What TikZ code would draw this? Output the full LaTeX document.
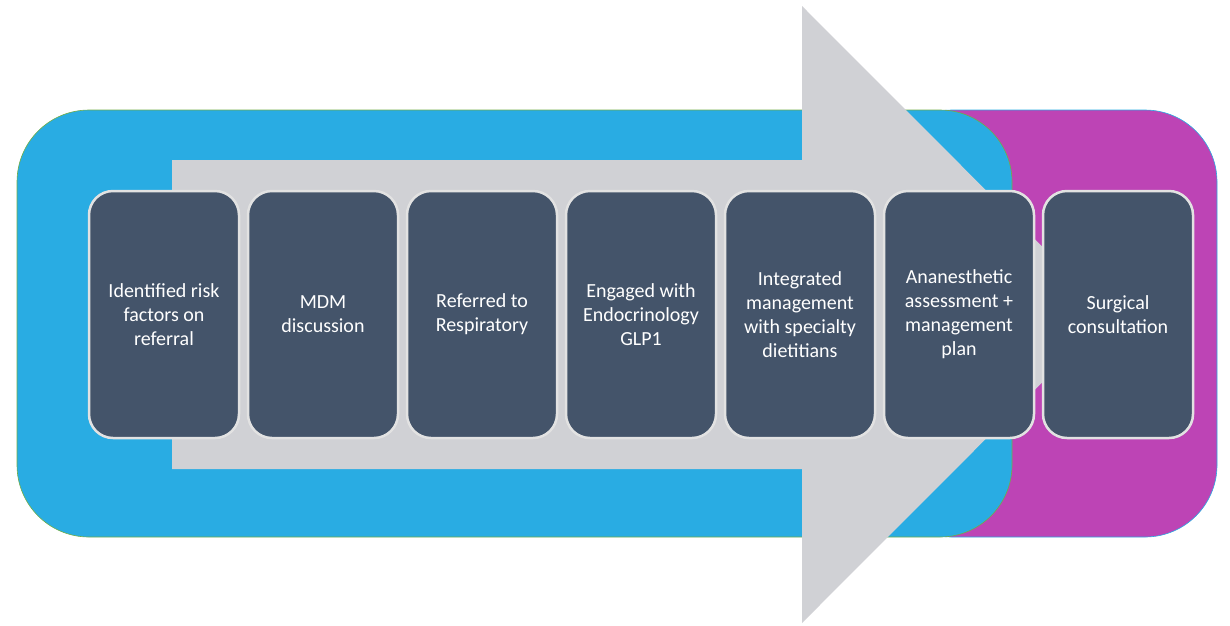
\documentclass[tikz,border=0pt]{standalone}
\usepackage{fontspec}
\setmainfont{Carlito}
\usepackage{tikz}
\usetikzlibrary{positioning}
\definecolor{bandblue}{RGB}{41,172,227}
\definecolor{bandmagenta}{RGB}{189,68,181}
\definecolor{bandedge}{RGB}{112,173,71}
\definecolor{arrowgray}{RGB}{208,209,213}
\definecolor{slate}{RGB}{68,84,106}
\definecolor{boxedge}{RGB}{226,226,226}

\begin{document}
\begin{tikzpicture}[
    x=1pt, y=-1pt,
    node distance=6.5pt,
    stage/.style={draw=boxedge, line width=2.5pt, fill=slate, rounded corners=24pt, minimum width=150pt, minimum height=247pt, align=center, text=white, inner sep=4pt, font=\fontsize{20}{24}\selectfont}
]
    \useasboundingbox (0,0) rectangle (1230,625);

    % Background bands
    \filldraw[fill=bandmagenta, draw=bandblue, line width=0.6pt, rounded corners=72pt] (880,110) rectangle (1217,537);
    \filldraw[fill=bandblue, draw=bandedge, line width=0.6pt, rounded corners=72pt] (17,110) rectangle (1012,537);

    % Big arrow
    \fill[arrowgray] (172,160) -- (802,160) -- (802,6) -- (1110,314.5) -- (802,623) -- (802,469) -- (172,469) -- cycle;

    % Stages
    \node[stage] (risk) at (164,314.5) {Identified risk\\factors on\\referral};
    \node[stage, right=of risk] (mdm) {MDM\\discussion};
    \node[stage, right=of mdm] (resp) {Referred to\\Respiratory};
    \node[stage, right=of resp] (endo) {Engaged with\\Endocrinology\\GLP1};
    \node[stage, right=of endo] (diet) {Integrated\\management\\with specialty\\dietitians};
    \node[stage, right=of diet] (anaes) {Ananesthetic\\assessment +\\management\\plan};
    \node[stage, right=of anaes] (surg) {Surgical\\consultation};
\end{tikzpicture}
\end{document}
